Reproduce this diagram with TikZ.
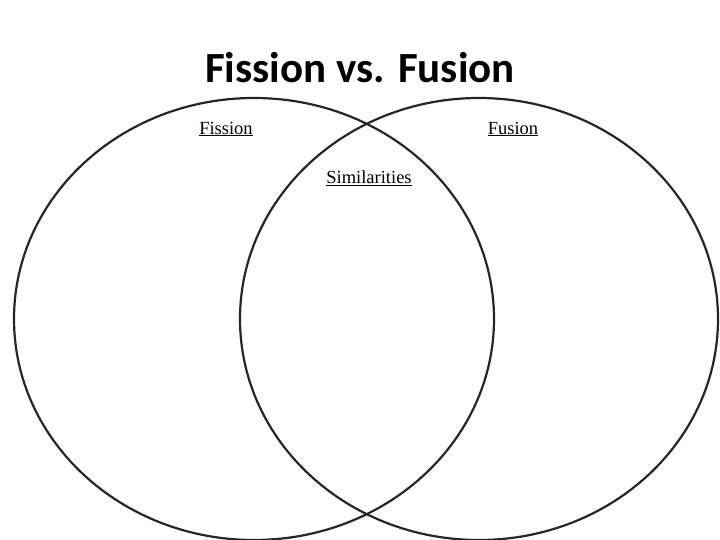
\documentclass[tikz,border=0pt]{standalone}
\usepackage{fontspec}
\setmainfont{Liberation Serif}
\newfontfamily\titlefont{Carlito}
\begin{document}
\begin{tikzpicture}[x=1pt,y=-1pt,
  circ/.style={draw=black!85,line width=2.2pt},
  lab/.style={font=\fontsize{18.5}{20}\selectfont}]
\useasboundingbox (0,0) rectangle (720,540);
\node[font=\titlefont\bfseries\fontsize{43}{48}\selectfont] (title) at (360,68) {Fission vs. Fusion};
\draw[circ] (254,319) ellipse [x radius=240, y radius=221];
\draw[circ] (479,319) ellipse [x radius=239, y radius=221];
\node[lab] (fission) at (226,129) {\underline{Fission}};
\node[lab] (fusion) at (513,129) {\underline{Fusion}};
\node[lab] (sim) at (369,178) {\underline{Similarities}};
\end{tikzpicture}
\end{document}
